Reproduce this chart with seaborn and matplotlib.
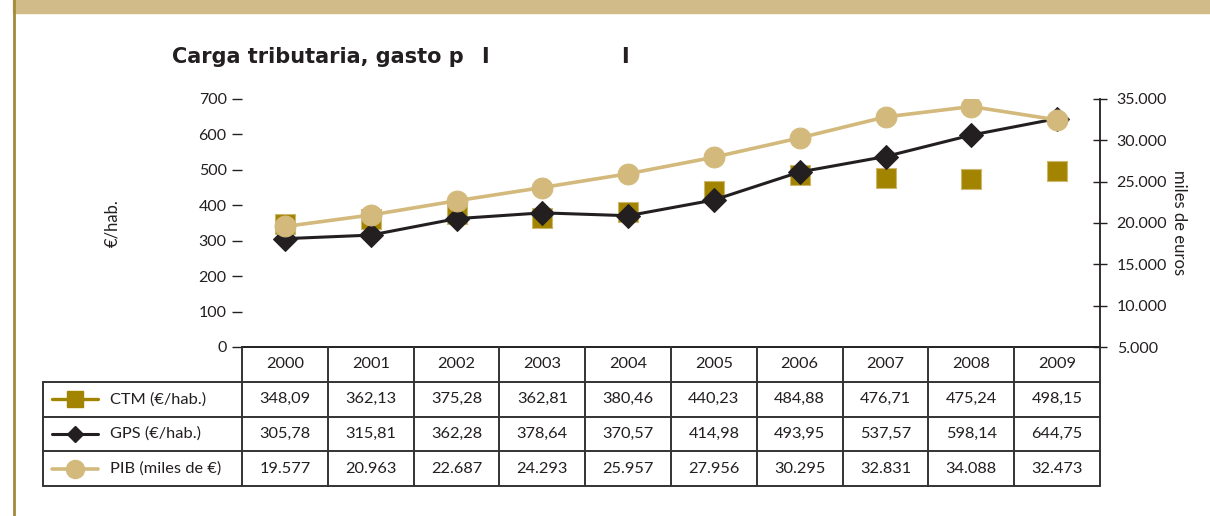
import numpy as np
import pandas as pd
import matplotlib
matplotlib.use("Agg")
import matplotlib.pyplot as plt
import seaborn as sns
from matplotlib.lines import Line2D
from matplotlib.patches import Rectangle
from matplotlib.ticker import FuncFormatter, FixedLocator

# ---- data ----
years = [2000, 2001, 2002, 2003, 2004, 2005, 2006, 2007, 2008, 2009]
ctm = [348.09, 362.13, 375.28, 362.81, 380.46, 440.23, 484.88, 476.71, 475.24, 498.15]
gps = [305.78, 315.81, 362.28, 378.64, 370.57, 414.98, 493.95, 537.57, 598.14, 644.75]
pib = [19577, 20963, 22687, 24293, 25957, 27956, 30295, 32831, 34088, 32473]
series_labels = ["CTM (€/hab.)", "GPS (€/hab.)", "PIB (miles de €)"]
left_ticks = [0, 100, 200, 300, 400, 500, 600, 700]
right_ticks = [5000, 10000, 15000, 20000, 25000, 30000, 35000]

# ---- style ----
sns.set_style("white")
plt.rcParams["font.family"] = ["Lato", "DejaVu Sans"]
INK = "#231F20"
GOLD = "#A38400"
TAN = "#D3BA7C"
BAR = "#D1BC89"

W, H = 1210, 516
fig = plt.figure(figsize=(W / 100, H / 100), dpi=100)


def box(x0, y0, x1, y1):
    """pixel box (top-left origin) -> figure fraction rect"""
    return [x0 / W, 1 - y1 / H, (x1 - x0) / W, (y1 - y0) / H]


# header band and left rule
fig.patches.append(Rectangle((13 / W, 1 - 13 / H), 1 - 13 / W, 13 / H,
                             transform=fig.transFigure, color=BAR, zorder=0))
fig.lines.append(Line2D([13.5 / W, 13.5 / W], [0, 1], transform=fig.transFigure,
                        color="#A38A3A", lw=2))

df = pd.DataFrame({"pos": np.arange(len(years)), "year": years,
                   "ctm": ctm, "gps": gps, "pib": pib})

# ---- chart ----
ax = fig.add_axes(box(242, 99, 1100, 347))
ax.patch.set_alpha(0)
ax.set_xlim(-0.5, len(years) - 0.5)
ax.set_ylim(0, 700)

sns.scatterplot(data=df, x="pos", y="ctm", ax=ax, marker="s", s=215,
                color=GOLD, edgecolor="#CDB870", linewidth=0.8, zorder=3)
sns.lineplot(data=df, x="pos", y="gps", ax=ax, color=INK, lw=2.2,
             marker="D", markersize=12, markeredgecolor=INK,
             markerfacecolor=INK, zorder=4)

ax.set_xlabel("")
ax.set_ylabel("€/hab.", fontsize=12, color=INK, labelpad=56)
ax.set_xticks([])
ax.yaxis.set_major_locator(FixedLocator(left_ticks))
ax.tick_params(axis="y", left=True, direction="out", length=7, width=1,
               color=INK, labelsize=11.5, labelcolor=INK, pad=4)
for s in ["left", "top", "right"]:
    ax.spines[s].set_visible(False)
ax.spines["bottom"].set_color(INK)
ax.spines["bottom"].set_linewidth(1.4)

ax2 = ax.twinx()
ax2.patch.set_alpha(0)
ax2.set_ylim(5000, 35000)
sns.lineplot(data=df, x="pos", y="pib", ax=ax2, color=TAN, lw=2.6,
             marker="o", markersize=15, markeredgecolor=TAN,
             markerfacecolor=TAN, zorder=5)
ax2.set_xlim(-0.5, len(years) - 0.5)
ax2.set_xlabel("")
ax2.set_xticks([])
ax2.yaxis.set_major_locator(FixedLocator(right_ticks))
ax2.yaxis.set_major_formatter(FuncFormatter(lambda v, p: f"{int(v):,}".replace(",", ".")))
ax2.tick_params(axis="y", right=True, direction="inout", length=10, width=1,
                color=INK, labelsize=11.5, labelcolor=INK, pad=7)
ax2.set_ylabel("miles de euros", fontsize=12, color=INK, rotation=-90, labelpad=14)
for s in ["left", "top", "bottom"]:
    ax2.spines[s].set_visible(False)
ax2.spines["right"].set_color(INK)
ax2.spines["right"].set_linewidth(1.3)

# ---- data table ----
col_w = (1100 - 242) / len(years)
x_left = -0.5 - (242 - 43) / col_w
tab = fig.add_axes(box(43, 347, 1100, 486))
tab.set_xlim(x_left, len(years) - 0.5)
tab.set_ylim(4, 0)
tab.axis("off")

grid_kw = dict(color="#333333", lw=1.4, clip_on=False)
for r in [1, 2, 3, 4]:
    tab.plot([x_left, len(years) - 0.5], [r, r], **grid_kw)
tab.plot([x_left, x_left], [1, 4], **grid_kw)
for k in range(len(years) + 1):
    tab.plot([k - 0.5, k - 0.5], [0, 4], **grid_kw)

txt_kw = dict(ha="center", va="center", fontsize=11.8, color=INK)
for i, y in enumerate(years):
    tab.text(i, 0.5, str(y), **txt_kw)
    tab.text(i, 1.5, f"{ctm[i]:.2f}".replace(".", ","), **txt_kw)
    tab.text(i, 2.5, f"{gps[i]:.2f}".replace(".", ","), **txt_kw)
    tab.text(i, 3.5, f"{pib[i]:,}".replace(",", "."), **txt_kw)

# legend keys inside the table
kx0 = x_left + 9 / col_w
kx1 = x_left + 55 / col_w
kxm = (kx0 + kx1) / 2
keys = [(GOLD, "s", 11.5, 2.4), (INK, "D", 8.5, 2.2), (TAN, "o", 13, 2.6)]
for r, (c, m, ms, lw) in enumerate(keys):
    yy = 1.5 + r
    tab.plot([kx0, kx1], [yy, yy], color=c, lw=lw, clip_on=False)
    tab.plot([kxm], [yy], marker=m, ms=ms, color=c, mec=c, clip_on=False)
    tab.text(x_left + 67 / col_w, yy, series_labels[r], ha="left", va="center",
             fontsize=11.8, color=INK)

# ---- title ----
title_kw = dict(fontsize=15, weight="bold", color=INK, va="baseline",
                family=["DejaVu Sans"])
fig.text(172 / W, 1 - 63 / H, "Carga tributaria, gasto p", **title_kw)
fig.text(481 / W, 1 - 63 / H, "I", **title_kw)
fig.text(621 / W, 1 - 63 / H, "I", **title_kw)

fig.savefig("out.png", dpi=100, facecolor="white")
